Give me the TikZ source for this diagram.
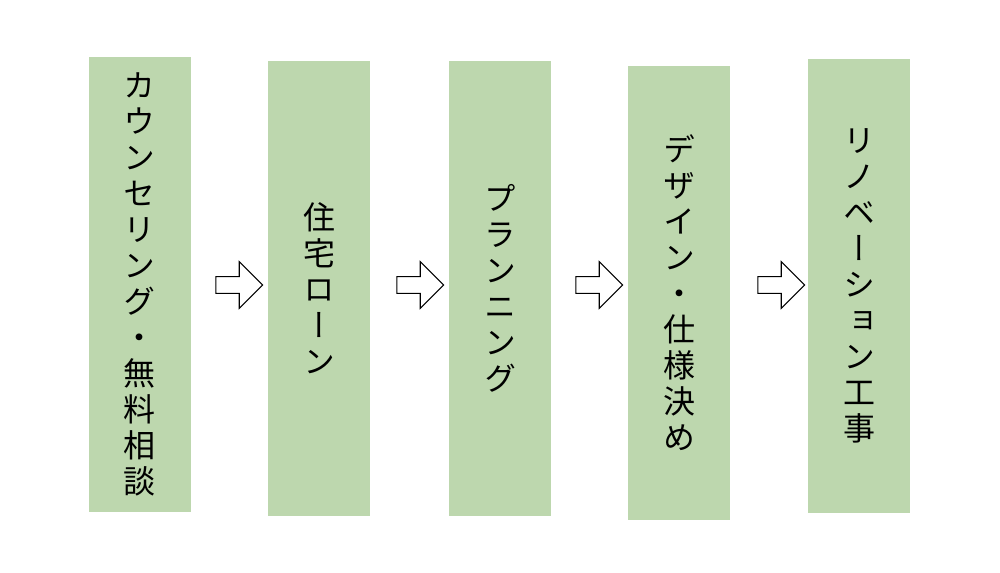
\documentclass[tikz,border=0pt]{standalone}
\usepackage{fontspec}
\newfontfamily\cjk[RawFeature=+vert]{Noto Sans CJK JP}
\usetikzlibrary{shapes.arrows,positioning}
\definecolor{boxgreen}{HTML}{BDD7AE}

\begin{document}
\begin{tikzpicture}[x=0.75pt,y=-0.75pt,
    stepbox/.style={fill=boxgreen,minimum width=76.5pt,inner sep=0pt,
        font=\cjk\fontsize{24}{27}\selectfont,align=center},
    flowarrow/.style={single arrow,draw=black,fill=white,thick,
        minimum height=35pt,minimum width=35pt,single arrow head extend=6pt,inner sep=3pt}]
    \useasboundingbox (0,0) rectangle (1000,572);
    % boxes
    \node[stepbox,minimum height=341pt] (s1) at (139.5,284.5) {カ\\ウ\\ン\\セ\\リ\\ン\\グ\\・\\無\\料\\相\\談};
    \node[stepbox,minimum height=341pt] (s2) at (319,288.5) {住\\宅\\ロ\\ー\\ン};
    \node[stepbox,minimum height=341pt] (s3) at (500,288.5) {プ\\ラ\\ン\\ニ\\ン\\グ};
    \node[stepbox,minimum height=341pt] (s4) at (679,293) {デ\\ザ\\イ\\ン\\・\\仕\\様\\決\\め};
    \node[stepbox,minimum height=341pt] (s5) at (859,286) {リ\\ノ\\ベ\\ー\\シ\\ョ\\ン\\工\\事};
    % arrows
    \node[flowarrow] (a1) at (235,285) {};
    \node[flowarrow] (a2) at (416,285) {};
    \node[flowarrow] (a3) at (595,285) {};
    \node[flowarrow] (a4) at (777,285) {};
\end{tikzpicture}
\end{document}
